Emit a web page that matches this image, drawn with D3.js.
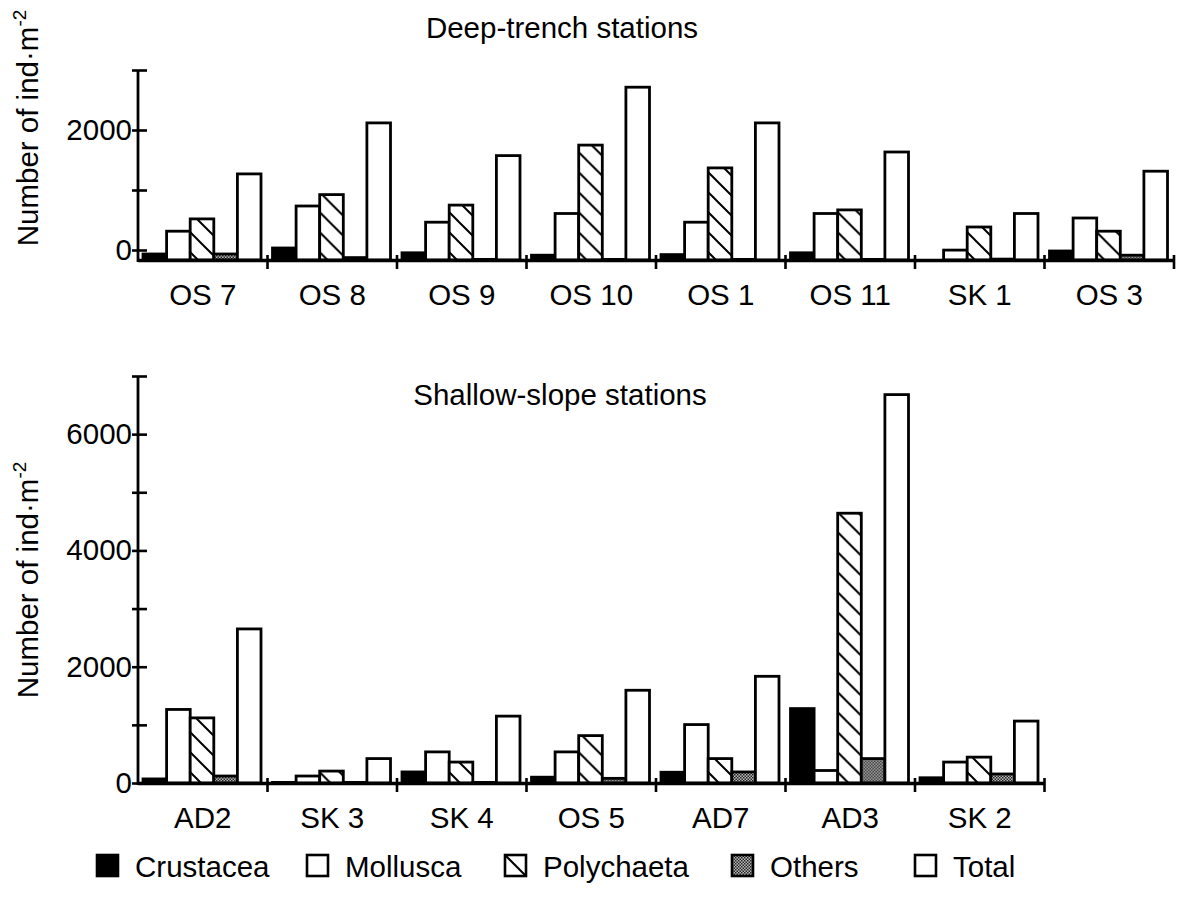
<!DOCTYPE html>
<html>
<head>
<meta charset="utf-8">
<script src="https://cdn.jsdelivr.net/npm/d3@7/dist/d3.min.js"></script>
<style>
body { margin: 0; background: #fff; }
text { font-family: "Liberation Sans", Arial, Helvetica, sans-serif; fill: #000; }
</style>
</head>
<body>
<script>
const taxa = ["Crustacea", "Mollusca", "Polychaeta", "Others", "Total"]

// deep-trench stations
const deepStations = ["OS 7", "OS 8", "OS 9", "OS 10", "OS 1", "OS 11", "SK 1", "OS 3"]
const deepCrustacea = [100, 200, 120, 80, 90, 120, 0, 150]
const deepMollusca = [480, 900, 630, 775, 630, 775, 165, 700]
const deepPolychaeta = [685, 1090, 915, 1915, 1535, 835, 550, 480]
const deepOthers = [100, 40, 10, 10, 10, 10, 15, 80]
const deepTotal = [1435, 2285, 1740, 2880, 2285, 1800, 775, 1480]
const deepTicks = [0, 1000, 2000, 3000]
const deepTickLabels = ["0", "", "2000", ""]

// shallow-slope stations
const shallowStations = ["AD2", "SK 3", "SK 4", "OS 5", "AD7", "AD3", "SK 2"]
const shallowCrustacea = [70, 10, 190, 100, 185, 1280, 90]
const shallowMollusca = [1265, 120, 535, 535, 1005, 215, 360]
const shallowPolychaeta = [1120, 205, 360, 815, 420, 4640, 445]
const shallowOthers = [120, 10, 10, 80, 190, 420, 155]
const shallowTotal = [2650, 420, 1150, 1595, 1835, 6680, 1065]
const shallowTicks = [0, 1000, 2000, 3000, 4000, 5000, 6000, 7000]
const shallowTickLabels = ["0", "", "2000", "", "4000", "", "6000", ""]

const width = 1181, height = 912
const left = 138, groupW = 129.5
const fontSize = '29.5px'

const svg = d3.select('body').append('svg')
    .attr('width', width)
    .attr('height', height)

// fills
const defs = svg.append('defs')
const hatch = defs.append('pattern')
    .attr('id', 'hatch')
    .attr('patternUnits', 'userSpaceOnUse')
    .attr('width', 20).attr('height', 20)
hatch.append('rect').attr('width', 20).attr('height', 20).attr('fill', '#fff')
hatch.append('path')
    .attr('d', 'M-5,-5L25,25M-5,15L5,25M15,-5L25,5')
    .attr('stroke', '#000').attr('stroke-width', 2)

const stip = defs.append('pattern')
    .attr('id', 'stipple')
    .attr('patternUnits', 'userSpaceOnUse')
    .attr('width', 3).attr('height', 3)
stip.append('rect').attr('width', 3).attr('height', 3).attr('fill', '#bbb')
stip.append('rect').attr('width', 1.5).attr('height', 1.5).attr('fill', '#222')
stip.append('rect').attr('x', 1.5).attr('y', 1.5).attr('width', 1.5).attr('height', 1.5).attr('fill', '#222')

const fills = {
    Crustacea: '#000',
    Mollusca: '#fff',
    Polychaeta: 'url(#hatch)',
    Others: 'url(#stipple)',
    Total: '#fff'
}

const drawPanel = (p) => {
    const series = [p.crustacea, p.mollusca, p.polychaeta, p.others, p.total]
    const right = left + p.stations.length * groupW

    const x0 = d3.scaleBand().domain(p.stations).range([left, right])
    const x1 = d3.scaleBand().domain(taxa).range([5, 123])
    const y = d3.scaleLinear().domain(p.domain).range([p.base, p.top])
    // tick marks sit a little above the bar baseline in the top panel
    const yAxisScale = y.copy().range([p.base - p.shift, p.top - p.shift])

    const g = svg.append('g')

    // bars
    const groups = g.selectAll('.station')
        .data(p.stations).enter()
        .append('g')
        .attr('class', 'station')
        .attr('transform', d => `translate(${x0(d)},0)`)

    groups.selectAll('rect')
        .data((d, j) => taxa.map((t, i) => ({taxon: t, value: series[i][j]})).filter(e => e.value > 0))
        .enter().append('rect')
        .attr('x', d => x1(d.taxon))
        .attr('y', d => y(d.value))
        .attr('width', x1.bandwidth())
        .attr('height', d => p.base - y(d.value))
        .attr('fill', d => fills[d.taxon])
        .attr('stroke', '#000')
        .attr('stroke-width', 2.8)

    // x axis
    g.append('line')
        .attr('x1', left).attr('x2', right)
        .attr('y1', p.base + 0.5).attr('y2', p.base + 0.5)
        .attr('stroke', '#000').attr('stroke-width', 3.4)
    g.selectAll('.xtick')
        .data(p.stations).enter()
        .append('line')
        .attr('class', 'xtick')
        .attr('x1', d => x0(d) + x0.bandwidth()).attr('x2', d => x0(d) + x0.bandwidth())
        .attr('y1', p.base - 5).attr('y2', p.base + 9)
        .attr('stroke', '#000').attr('stroke-width', 2.6)
    g.selectAll('.xlabel')
        .data(p.stations).enter()
        .append('text')
        .attr('class', 'xlabel')
        .attr('x', d => x0(d) + x0.bandwidth() / 2)
        .attr('y', p.base + 45)
        .attr('text-anchor', 'middle')
        .style('font-size', fontSize)
        .text(d => d)

    // y axis
    const yAxis = d3.axisLeft(yAxisScale)
        .tickValues(p.ticks)
        .tickFormat((d, i) => p.tickLabels[i])
        .tickSize(0)
        .tickPadding(6)
    const ag = g.append('g')
        .attr('transform', `translate(${left},0)`)
        .call(yAxis)
    ag.select('.domain').remove()
    ag.selectAll('.tick text')
        .style('font-size', fontSize)
        .style('font-family', '"Liberation Sans", Arial, sans-serif')
        .attr('fill', '#000')
    ag.selectAll('.tick line')
        .attr('x1', -6).attr('x2', 9)
        .attr('stroke', '#000').attr('stroke-width', 2.6)
    ag.append('line')
        .attr('y1', yAxisScale(p.domain[1])).attr('y2', p.base + 2)
        .attr('stroke', '#000').attr('stroke-width', 2.8)

    // title and axis label
    g.append('text')
        .attr('x', p.titleX).attr('y', p.titleY)
        .attr('text-anchor', 'middle')
        .style('font-size', fontSize)
        .text(p.title)

    const lab = g.append('text')
        .attr('transform', `translate(38,${p.labelY}) rotate(-90)`)
        .attr('text-anchor', 'middle')
        .style('font-size', fontSize)
    lab.append('tspan').text('Number of ind·m')
    lab.append('tspan').attr('dy', -12).style('font-size', '19px').text('-2')
}

drawPanel({
    stations: deepStations,
    crustacea: deepCrustacea, mollusca: deepMollusca, polychaeta: deepPolychaeta,
    others: deepOthers, total: deepTotal,
    ticks: deepTicks, tickLabels: deepTickLabels,
    domain: [0, 3000], base: 260, top: 80, shift: 10,
    title: 'Deep-trench stations', titleX: 562, titleY: 38, labelY: 128
})

drawPanel({
    stations: shallowStations,
    crustacea: shallowCrustacea, mollusca: shallowMollusca, polychaeta: shallowPolychaeta,
    others: shallowOthers, total: shallowTotal,
    ticks: shallowTicks, tickLabels: shallowTickLabels,
    domain: [0, 7000], base: 783, top: 376, shift: 0,
    title: 'Shallow-slope stations', titleX: 560, titleY: 405, labelY: 580
})

//legend
const legendX = [97, 307, 505, 732, 915]
const legend = svg.append('g').attr('transform', 'translate(0,866)')
taxa.forEach((t, i) => {
    const item = legend.append('g').attr('transform', `translate(${legendX[i]},0)`)
    item.append('rect')
        .attr('x', 0).attr('y', -11)
        .attr('width', 21).attr('height', 21)
        .attr('fill', t === 'Polychaeta' ? '#fff' : fills[t])
        .attr('stroke', '#000').attr('stroke-width', 2.6)
    if (t === 'Polychaeta') {
        item.append('line')
            .attr('x1', 0).attr('y1', -11).attr('x2', 21).attr('y2', 10)
            .attr('stroke', '#000').attr('stroke-width', 2)
    }
    item.append('text')
        .attr('x', 38).attr('y', 10.5)
        .style('font-size', fontSize)
        .text(t)
})
</script>
</body>
</html>
